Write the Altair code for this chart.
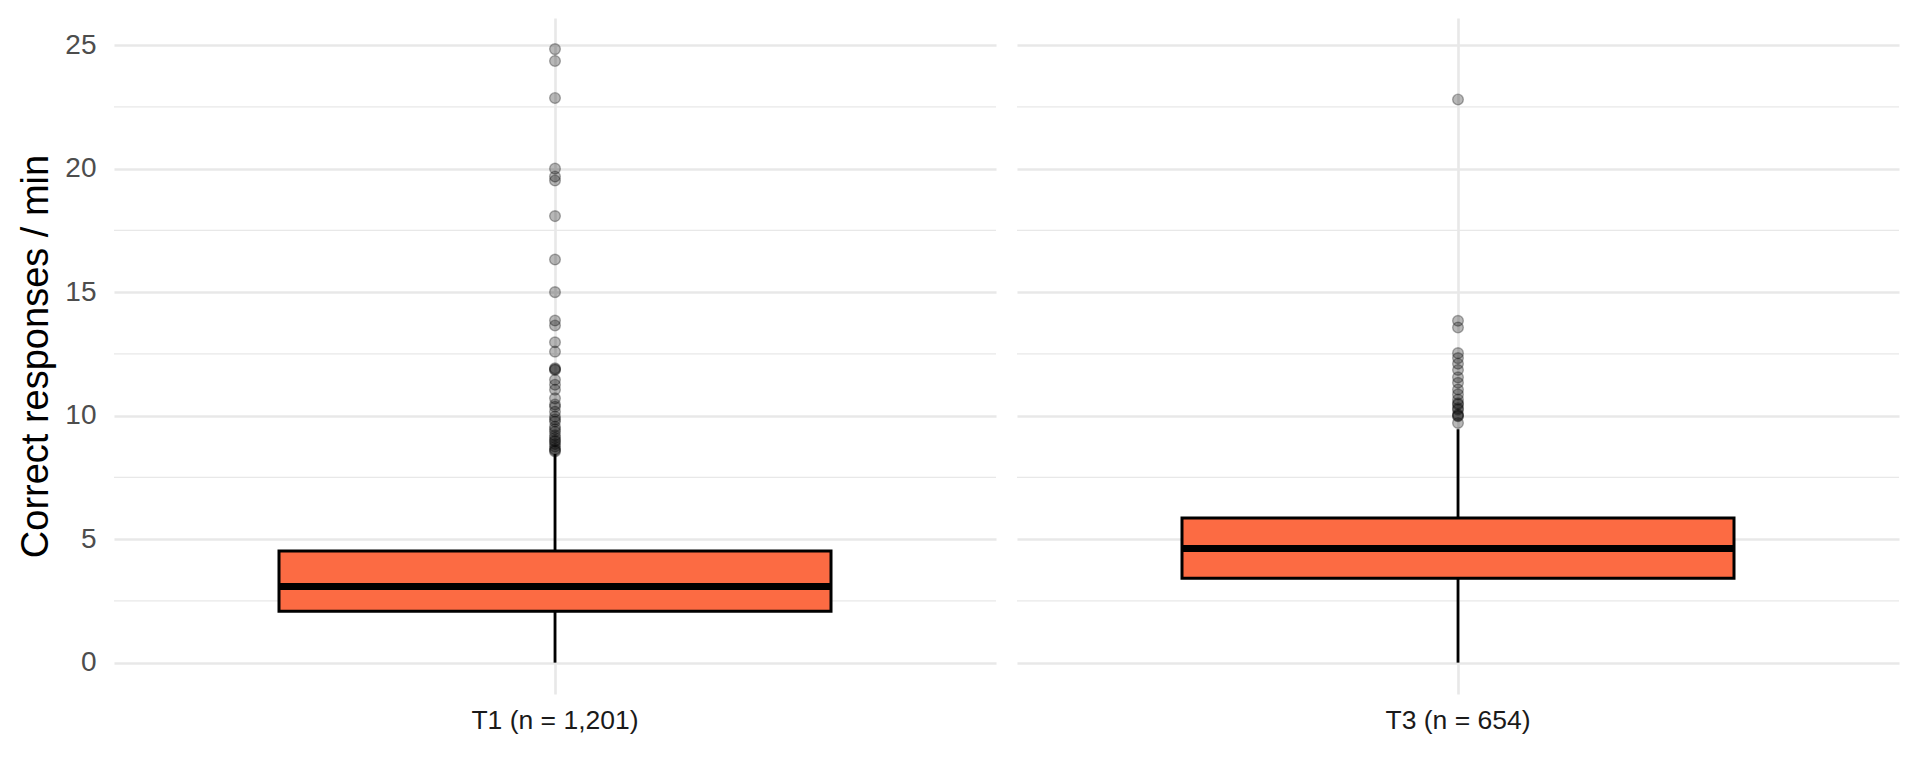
import altair as alt
import pandas as pd

groups = ["T1 (n = 1,201)", "T3 (n = 654)"]
q1 = [2.08, 3.42]
median = [3.08, 4.62]
q3 = [4.52, 5.86]
whisker_low = [0.0, 0.0]
whisker_high = [8.45, 9.45]

outliers_t1 = [24.84, 24.36, 22.86, 20.0, 19.68, 19.52, 18.08, 16.32, 15.0,
               13.85, 13.65, 12.97, 12.59, 11.92, 11.88, 11.85, 11.45, 11.25,
               11.05, 10.7, 10.45, 10.36, 10.16, 9.96, 9.85, 9.76, 9.55, 9.45,
               9.35, 9.2, 9.1, 9.0, 8.95, 8.85, 8.75, 8.65, 8.6, 8.55]
outliers_t3 = [22.8, 13.84, 13.57, 12.53, 12.33, 12.1, 11.85, 11.55, 11.33,
               11.06, 10.86, 10.65, 10.5, 10.45, 10.3, 10.24, 10.05, 10.0,
               9.98, 9.7]

y_ticks = [0, 5, 10, 15, 20, 25]
minor_ticks = [2.5, 7.5, 12.5, 17.5, 22.5]
y_domain = [-1.27, 26.1]

GRID = "#e8e8e8"
FILL = "#FC6B43"
FONT = "Liberation Sans"
BOX_W = 552


def panel(i, outs, first):
    stats = pd.DataFrame({
        "group": [groups[i]], "q1": [q1[i]], "median": [median[i]],
        "q3": [q3[i]], "lo": [whisker_low[i]], "hi": [whisker_high[i]],
    })
    pts = pd.DataFrame({"group": [groups[i]] * len(outs), "value": outs})
    minor = pd.DataFrame({"v": minor_ticks})

    yscale = alt.Scale(domain=y_domain, nice=False, zero=False)
    if first:
        yaxis = alt.Axis(values=y_ticks, ticks=False, domain=False, grid=True,
                         gridColor=GRID, gridWidth=2.6, labelFontSize=28,
                         labelColor="#4d4d4d", labelPadding=18, labelFont=FONT,
                         titleFontSize=38, titleFont=FONT, titleColor="black",
                         titleFontWeight="normal", titlePadding=9)
        ytitle = "Correct responses / min"
    else:
        yaxis = alt.Axis(values=y_ticks, ticks=False, domain=False, grid=True,
                         gridColor=GRID, gridWidth=2.6, labels=False)
        ytitle = None

    xenc = alt.X("group:N", title=None,
                 axis=alt.Axis(labelAngle=0, ticks=False, domain=False,
                               grid=True, gridColor=GRID, gridWidth=2.6,
                               bandPosition=0.5, labelPadding=13,
                               labelFontSize=26.5, labelColor="#1a1a1a",
                               labelFont=FONT))

    minor_layer = alt.Chart(minor).mark_rule(color=GRID, strokeWidth=1.3).encode(
        y=alt.Y("v:Q", scale=yscale, axis=yaxis, title=ytitle)
    )
    whisk_lo = alt.Chart(stats).mark_rule(color="black", strokeWidth=2.8).encode(
        x=xenc, y=alt.Y("lo:Q", scale=yscale, axis=yaxis, title=ytitle), y2="q1:Q"
    )
    whisk_hi = alt.Chart(stats).mark_rule(color="black", strokeWidth=2.8).encode(
        x=xenc, y=alt.Y("q3:Q", scale=yscale, axis=yaxis, title=ytitle), y2="hi:Q"
    )
    box = alt.Chart(stats).mark_bar(size=BOX_W, fill=FILL, stroke="black",
                                    strokeWidth=3).encode(
        x=xenc, y=alt.Y("q1:Q", scale=yscale, axis=yaxis, title=ytitle), y2="q3:Q"
    )
    med = alt.Chart(stats).mark_tick(color="black", thickness=7, size=BOX_W,
                                     opacity=1).encode(
        x=xenc, y=alt.Y("median:Q", scale=yscale, axis=yaxis, title=ytitle)
    )
    points = alt.Chart(pts).mark_circle(fill="black", fillOpacity=0.28,
                                        stroke="black", strokeOpacity=0.3,
                                        strokeWidth=1.4, size=115).encode(
        x=xenc, y=alt.Y("value:Q", scale=yscale, axis=yaxis, title=ytitle)
    )
    return alt.layer(minor_layer, whisk_lo, whisk_hi, box, med, points).properties(
        width=882, height=676
    )


chart = alt.hconcat(
    panel(0, outliers_t1, True),
    panel(1, outliers_t3, False),
    spacing=19,
).properties(
    padding={"left": 9, "top": 10, "right": 5, "bottom": 5},
    background="white",
).configure_view(stroke=None, strokeWidth=0)

chart.save("out.html", embed_options={"renderer": "svg", "actions": False})
